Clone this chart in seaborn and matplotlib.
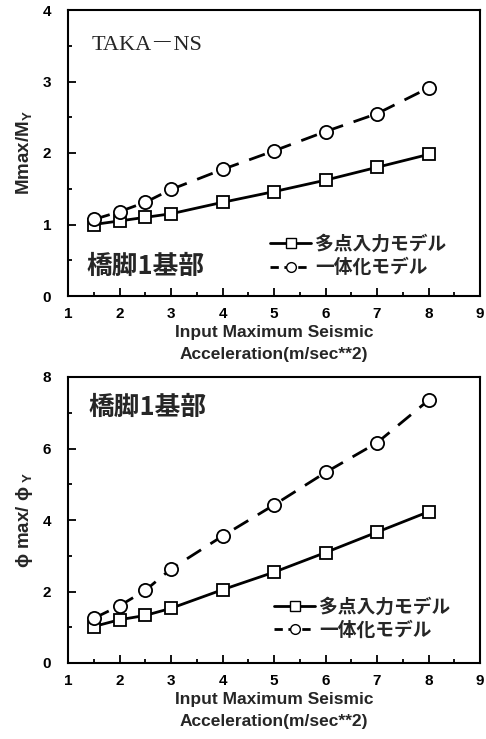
import matplotlib
matplotlib.use("Agg")
import matplotlib.pyplot as plt
import seaborn as sns
import pandas as pd
from matplotlib.ticker import MultipleLocator
from matplotlib.lines import Line2D

sns.set_theme(style="white")
plt.rcParams['font.family'] = ['Liberation Sans', 'Noto Sans CJK JP', 'DejaVu Sans']

accel = [1.5, 2, 2.5, 3, 4, 5, 6, 7, 8]
m_multi = [1.00, 1.05, 1.10, 1.15, 1.31, 1.46, 1.62, 1.80, 1.98]
m_integ = [1.07, 1.18, 1.31, 1.49, 1.77, 2.03, 2.30, 2.55, 2.91]
phi_multi = [1.02, 1.21, 1.33, 1.53, 2.05, 2.54, 3.09, 3.66, 4.23]
phi_integ = [1.25, 1.60, 2.03, 2.63, 3.55, 4.42, 5.33, 6.16, 7.35]

lab_multi = "多点入力モデル"
lab_integ = "一体化モデル"
xlabel = "Input Maximum Seismic\nAcceleration(m/sec**2)"

fig = plt.figure(figsize=(4.86, 7.39), dpi=100)
ax1 = fig.add_axes([68/486, 1-296/739, (480-68)/486, (296-10)/739])
ax2 = fig.add_axes([68/486, 1-663/739, (480-68)/486, (663-377)/739])

jp = ['Noto Sans CJK JP', 'DejaVu Sans']

def draw(ax, y1, y2, ymax, ymajor, yminor, ylabel):
    df1 = pd.DataFrame({"x": accel, "y": y1})
    df2 = pd.DataFrame({"x": accel, "y": y2})
    sns.lineplot(data=df1, x="x", y="y", ax=ax, color="black", lw=2,
                 marker="s", markersize=8, markerfacecolor="white",
                 markeredgecolor="black", markeredgewidth=1.3)
    sns.lineplot(data=df2, x="x", y="y", ax=ax, color="black", lw=2,
                 marker="o", markersize=9.5, markerfacecolor="white",
                 markeredgecolor="black", markeredgewidth=1.3,
                 linestyle=(0, (6, 4)))
    ax.set_xlim(1, 9)
    ax.set_ylim(0, ymax)
    ax.xaxis.set_major_locator(MultipleLocator(1))
    ax.xaxis.set_minor_locator(MultipleLocator(0.5))
    ax.yaxis.set_major_locator(MultipleLocator(ymajor))
    ax.yaxis.set_minor_locator(MultipleLocator(yminor))
    ax.tick_params(which="both", direction="in", bottom=True, left=True,
                   top=False, right=False, width=1.3, colors="black")
    ax.tick_params(which="major", length=6, labelsize=11)
    ax.tick_params(axis="x", which="major", pad=8)
    ax.tick_params(axis="y", which="major", pad=12)
    ax.tick_params(which="minor", length=3)
    for lbl in ax.get_xticklabels() + ax.get_yticklabels():
        lbl.set_fontweight("bold")
    for s in ax.spines.values():
        s.set_color("black")
        s.set_linewidth(1.5)
    ax.set_xlabel(xlabel, fontsize=12.5, fontweight="bold", linespacing=1.55, labelpad=3)
    ax.set_ylabel(ylabel, fontsize=13.5, fontweight="bold", labelpad=6)
    handles = [
        Line2D([], [], color="black", lw=2, marker="s", markersize=7,
               markerfacecolor="white", markeredgecolor="black"),
        Line2D([], [], color="black", lw=2, marker="o", markersize=7,
               markerfacecolor="white", markeredgecolor="black",
               linestyle=(0, (3, 2))),
    ]
    return handles

legkw = dict(loc="center left", frameon=False, handlelength=2.2,
             handletextpad=0.2, labelspacing=0.25, borderaxespad=0, borderpad=0,
             prop={"family": jp, "size": 13.5, "weight": "bold"})

h = draw(ax1, m_multi, m_integ, 4, 1, 0.5, r"Mmax/M$_\mathregular{Y}$")
ax1.legend(h, [lab_multi, lab_integ], bbox_to_anchor=(0.49, 0.14), **legkw)
ax1.text(0.058, 0.875, "TAKA－NS", transform=ax1.transAxes, fontsize=16,
         family=['Liberation Serif', 'Noto Serif CJK JP', 'Noto Sans CJK JP'], va="center", ha="left")
ax1.text(0.046, 0.105, "橋脚1基部", transform=ax1.transAxes, fontsize=18.5,
         family=jp, fontweight="bold", va="center", ha="left")

h = draw(ax2, phi_multi, phi_integ, 8, 2, 1, r"ϕ max/ ϕ$_\mathregular{\ Y}$")
ax2.legend(h, [lab_multi, lab_integ], bbox_to_anchor=(0.50, 0.155), **legkw)
ax2.text(0.05, 0.895, "橋脚1基部", transform=ax2.transAxes, fontsize=18.5,
         family=jp, fontweight="bold", va="center", ha="left")

fig.savefig("out.png", dpi=100, facecolor="white")
